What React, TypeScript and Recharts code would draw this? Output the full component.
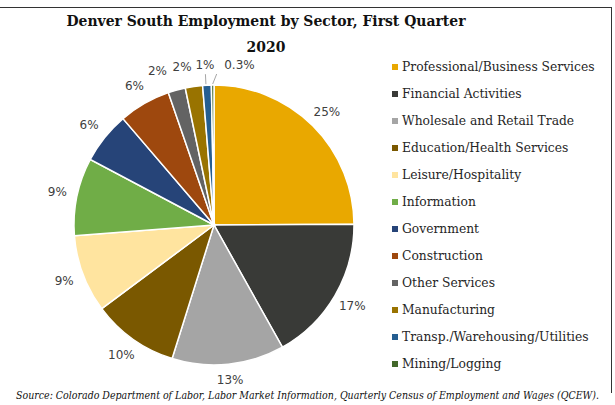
import { PieChart, Pie, Cell } from "recharts";

const sectors = [
  "Professional/Business Services",
  "Financial Activities",
  "Wholesale and Retail Trade",
  "Education/Health Services",
  "Leisure/Hospitality",
  "Information",
  "Government",
  "Construction",
  "Other Services",
  "Manufacturing",
  "Transp./Warehousing/Utilities",
  "Mining/Logging",
];
const shares = [25, 17, 13, 10, 9, 9, 6, 6, 2, 2, 1, 0.3];
const colors = [
  "#E9A800",
  "#393A37",
  "#A5A5A5",
  "#7A5800",
  "#FFE49F",
  "#70AD47",
  "#264478",
  "#9E480E",
  "#636363",
  "#997300",
  "#255E91",
  "#43682B",
];

const data = sectors.map((name, i) => ({ name, value: shares[i] }));

const RAD = Math.PI / 180;
const SERIF = "'DejaVu Serif', serif";
const SERIF_C = "'DejaVu Serif Condensed', 'DejaVu Serif', serif";

// small nudges so the crowded labels at the top don't collide
const labelNudge: Record<number, number> = { 8: -14, 9: -9, 10: -1, 11: 27 };

function renderLabel(props: any) {
  const { cx, cy, midAngle, outerRadius, value, index } = props;
  const cos = Math.cos(-midAngle * RAD);
  const sin = Math.sin(-midAngle * RAD);
  const r = outerRadius + (index === 2 ? 16 : 20);
  const x = cx + r * cos + (labelNudge[index] || 0);
  const y = cy + r * sin;
  let line = null;
  if (index === 10) {
    line = (
      <line
        x1={cx + (outerRadius + 1) * cos - 1}
        y1={cy + (outerRadius + 1) * sin}
        x2={cx + (outerRadius + 11) * cos - 1}
        y2={cy + (outerRadius + 11) * sin}
        stroke="#A6A6A6"
        strokeWidth={1}
      />
    );
  }
  if (index === 11) {
    const x0 = cx + (outerRadius + 1) * cos;
    const y0 = cy + (outerRadius + 1) * sin;
    line = (
      <line x1={x0} y1={y0} x2={x0 + 4} y2={y0 - 10} stroke="#A6A6A6" strokeWidth={1} />
    );
  }
  return (
    <g>
      {line}
      <text
        x={x}
        y={y}
        textAnchor="middle"
        dominantBaseline="central"
        fill="#404040"
        fontSize={12}
        fontFamily="'DejaVu Sans', sans-serif"
      >
        {value}%
      </text>
    </g>
  );
}

function LegendList() {
  return (
    <div style={{ fontFamily: SERIF, fontSize: 12.3, color: "#262626" }}>
      {sectors.map((s, i) => (
        <div
          key={s}
          style={{ display: "flex", alignItems: "center", height: 27, whiteSpace: "nowrap" }}
        >
          <span
            style={{
              width: 6,
              height: 6,
              background: colors[i],
              marginRight: 4,
              display: "inline-block",
            }}
          />
          {s}
        </div>
      ))}
    </div>
  );
}

export default function App() {
  return (
    <div
      style={{
        position: "absolute",
        left: 0,
        top: 0,
        width: 615,
        height: 405,
        background: "#fff",
        overflow: "hidden",
      }}
    >
      <div
        style={{
          position: "absolute",
          left: -2,
          top: 7,
          width: 613,
          height: 385,
          borderTop: "1.5px solid #333",
          borderRight: "1.5px solid #333",
        }}
      />
      <div
        style={{
          position: "absolute",
          left: 0,
          top: 8,
          width: 532,
          textAlign: "center",
          fontFamily: SERIF_C,
          fontWeight: "bold",
          fontSize: 15.5,
          lineHeight: "26px",
          color: "#111",
        }}
      >
        Denver South Employment by Sector, First Quarter
        <br />
        2020
      </div>
      <div style={{ position: "absolute", left: 0, top: 0 }}>
        <PieChart width={615} height={405} margin={{ top: 0, right: 0, bottom: 0, left: 0 }}>
          <Pie
            data={data}
            dataKey="value"
            nameKey="name"
            cx={214}
            cy={225}
            outerRadius={140}
            startAngle={90}
            endAngle={-270}
            stroke="#fff"
            strokeWidth={1.5}
            label={renderLabel}
            labelLine={false}
            isAnimationActive={false}
          >
            {data.map((d, i) => (
              <Cell key={d.name} fill={colors[i]} />
            ))}
          </Pie>
        </PieChart>
      </div>
      <div style={{ position: "absolute", left: 392, top: 53 }}>
        <LegendList />
      </div>
      <div
        style={{
          position: "absolute",
          left: 0,
          top: 388,
          width: 615,
          textAlign: "center",
          fontFamily: SERIF_C,
          fontStyle: "italic",
          fontSize: 10.5,
          lineHeight: "14px",
          color: "#111",
          whiteSpace: "nowrap",
        }}
      >
        Source: Colorado Department of Labor, Labor Market Information, Quarterly Census of
        Employment and Wages (QCEW).
      </div>
    </div>
  );
}
